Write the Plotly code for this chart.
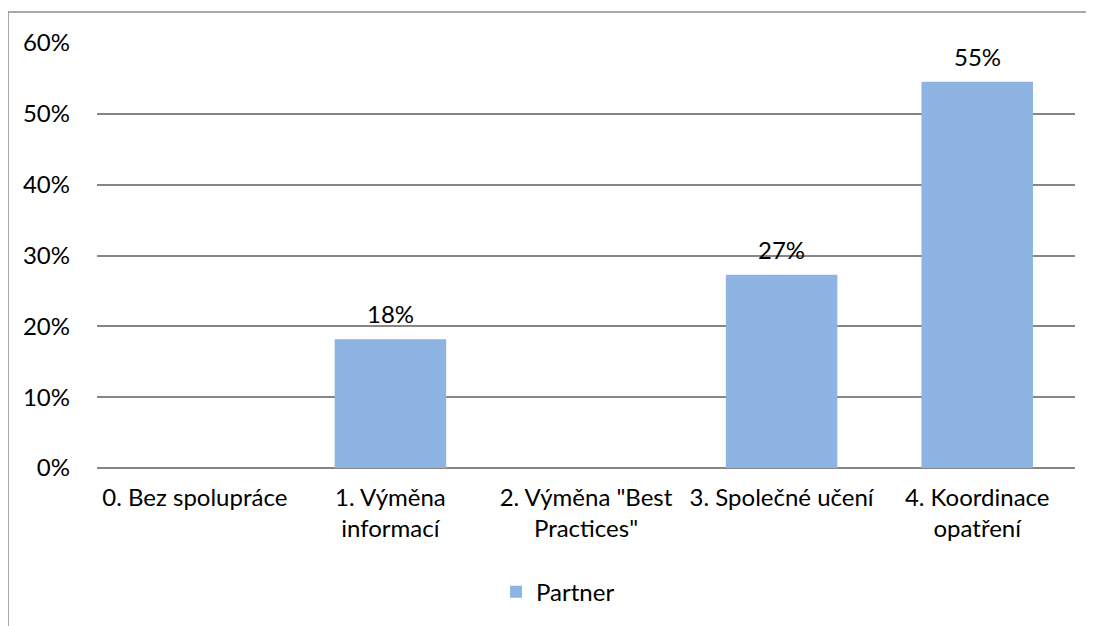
import plotly.graph_objects as go

categories = ["0. Bez spolupráce", "1. Výměna<br>informací", "2. Výměna \"Best<br>Practices\"",
              "3. Společné učení", "4. Koordinace<br>opatření"]
values = [0.0, 2/11, 0.0, 3/11, 6/11]
labels = ["", "18%", "", "27%", "55%"]
series_name = "Partner"
y_ticks = [0, 0.1, 0.2, 0.3, 0.4, 0.5, 0.6]
y_tick_text = ["0%", "10%", "20%", "30%", "40%", "50%", "60%"]

FONT = "Lato, Calibri, Carlito, sans-serif"
FS = 24

fig = go.Figure()
fig.add_trace(go.Bar(
    x=categories, y=values, name=series_name,
    marker=dict(color="#8EB4E3", line=dict(width=0)),
    width=0.57,
))

for c, v, t in zip(categories, values, labels):
    if t:
        fig.add_annotation(x=c, y=v, text=t, showarrow=False, yanchor="bottom",
                           yshift=9, font=dict(size=FS, color="#000000", family=FONT))

bx0 = (8 - 97) / 978
bx1 = (1130 - 97) / 978
by0 = (468 - 660) / 425
by1 = (468 - 12) / 425
border = dict(color="#8C8C8C", width=1.5)

fig.update_layout(
    width=1094, height=626,
    margin=dict(l=89, r=27, t=35, b=166),
    paper_bgcolor="white", plot_bgcolor="white",
    font=dict(family=FONT, size=FS, color="#000000"),
    showlegend=True,
    legend=dict(orientation="h", x=0.4714, xanchor="center", y=-0.292, yanchor="middle",
                font=dict(size=FS), itemwidth=30),
    xaxis=dict(showgrid=False, showline=False, ticks="", tickfont=dict(size=FS),
               tickangle=0, ticklabelstandoff=13),
    yaxis=dict(range=[0, 0.6], tickvals=y_ticks, ticktext=y_tick_text,
               showgrid=True, gridcolor="#868686", gridwidth=1.5,
               zeroline=True, zerolinecolor="#868686", zerolinewidth=1.5,
               showline=False, ticks="", ticklabelstandoff=26, tickfont=dict(size=FS)),
    shapes=[
        dict(type="line", xref="paper", yref="paper", x0=bx0, x1=bx0, y0=by0, y1=by1,
             line=border, layer="below"),
        dict(type="line", xref="paper", yref="paper", x0=bx0, x1=bx1, y0=by1, y1=by1,
             line=border, layer="below"),
    ],
)

fig.write_html("out.html")
